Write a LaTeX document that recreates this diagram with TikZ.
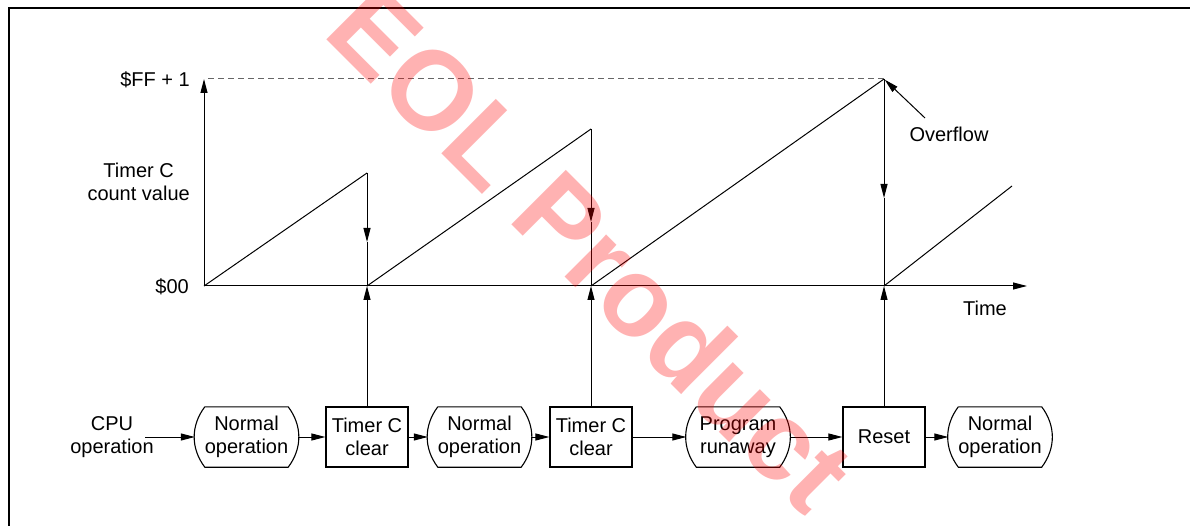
\documentclass[tikz,border=0pt]{standalone}
\usepackage{fontspec}
\setmainfont{Liberation Sans}
\usetikzlibrary{arrows.meta}
\tikzset{
  tip/.style={-{Triangle[length=14pt,width=7pt]}},
  thin line/.style={line width=1pt},
  lbl/.style={font=\fontsize{20}{23}\selectfont, inner sep=0pt, align=center},
  procbox/.style={lbl, draw, line width=1.2pt, minimum width=82pt, minimum height=60pt},
  normbox/.style={lbl, minimum width=103pt, minimum height=60pt},
  conn/.style={thin line, tip},
  normedge/.style={line width=1.1pt},
  watermark/.style={font=\bfseries\fontsize{112}{112}\selectfont, text=red, opacity=0.3, inner sep=0pt, rotate=-45}
}
\newcommand\normshape[1]{%
  \draw[normedge] ([xshift=10pt]#1.north west) -- ([xshift=-10pt]#1.north east)
    to[bend left=37] ([xshift=-10pt]#1.south east) -- ([xshift=10pt]#1.south west)
    to[bend left=37] ([xshift=10pt]#1.north west);}
\begin{document}
\begin{tikzpicture}[x=1pt,y=-1pt]
\useasboundingbox (0,0) rectangle (1190,526);
% frame
\draw[line width=1.3pt] (9,526) -- (9,8) -- (1190,8);

% axes
\coordinate (O) at (204,286);
\coordinate (ytop) at (204,79);
\coordinate (xend) at (1027,286);
\draw[conn] (O) -- (ytop);
\draw[conn] (O) -- (xend);

\node[lbl, anchor=east] (ff) at (190,80) {\$FF + 1};
\node[lbl, anchor=east] (tc) at (190,182) {Timer C\\count value};
\node[lbl, anchor=east] (zero) at (189,287) {\$00};
\node[lbl] (time) at (985,308) {Time};

% sawtooth
\coordinate (p1) at (367,173); \coordinate (b1) at (367,286); \coordinate (m1) at (367,242);
\coordinate (p2) at (591,129); \coordinate (b2) at (591,286); \coordinate (m2) at (591,222);
\coordinate (p3) at (884,79);  \coordinate (b3) at (884,286); \coordinate (m3) at (884,198);
\coordinate (e4) at (1012,186);
\draw[thin line] (O) -- (p1);
\draw[conn] (p1) -- (m1); \draw[thin line] (m1) -- (b1);
\draw[thin line] (b1) -- (p2);
\draw[conn] (p2) -- (m2); \draw[thin line] (m2) -- (b2);
\draw[thin line] (b2) -- (p3);
\draw[conn] (p3) -- (m3); \draw[thin line] (m3) -- (b3);
\draw[thin line] (b3) -- (e4);

% dashed max line
\draw[thin line, gray!80!black, dash pattern=on 6pt off 4pt] (208,79) -- (p3);

% overflow
\node[lbl] (ov) at (949,134) {Overflow};
\coordinate (ovt) at (925,118);
\draw[conn, shorten >=1pt] (ovt) -- (p3);

% process flow
\node[lbl] (cpu) at (112,437) {CPU\\operation};
\node[normbox] (n1) at (246.5,437) {Normal\\operation};
\node[procbox] (t1) at (367,437) {Timer C\\clear};
\node[normbox] (n2) at (479.5,437) {Normal\\operation};
\node[procbox] (t2) at (591,437) {Timer C\\clear};
\node[normbox] (pr) at (738,437) {Program\\runaway};
\node[procbox] (rs) at (884,437) {Reset};
\node[normbox] (n3) at (1000,437) {Normal\\operation};
\normshape{n1}
\normshape{n2}
\normshape{pr}
\normshape{n3}

\draw[conn] (cpu.east -| 145,0) -- (n1.west);
\draw[conn] (n1.east) -- (t1.west);
\draw[conn] (t1.east) -- (n2.west);
\draw[conn] (n2.east) -- (t2.west);
\draw[conn] (t2.east) -- (pr.west);
\draw[conn] (pr.east) -- (rs.west);
\draw[conn] (rs.east) -- (n3.west);

\draw[conn] (t1.north) -- (b1);
\draw[conn] (t2.north) -- (b2);
\draw[conn] (rs.north) -- (b3);

% watermark
\node[watermark] (wm) at (592,248) {EOL Product};
\end{tikzpicture}
\end{document}
